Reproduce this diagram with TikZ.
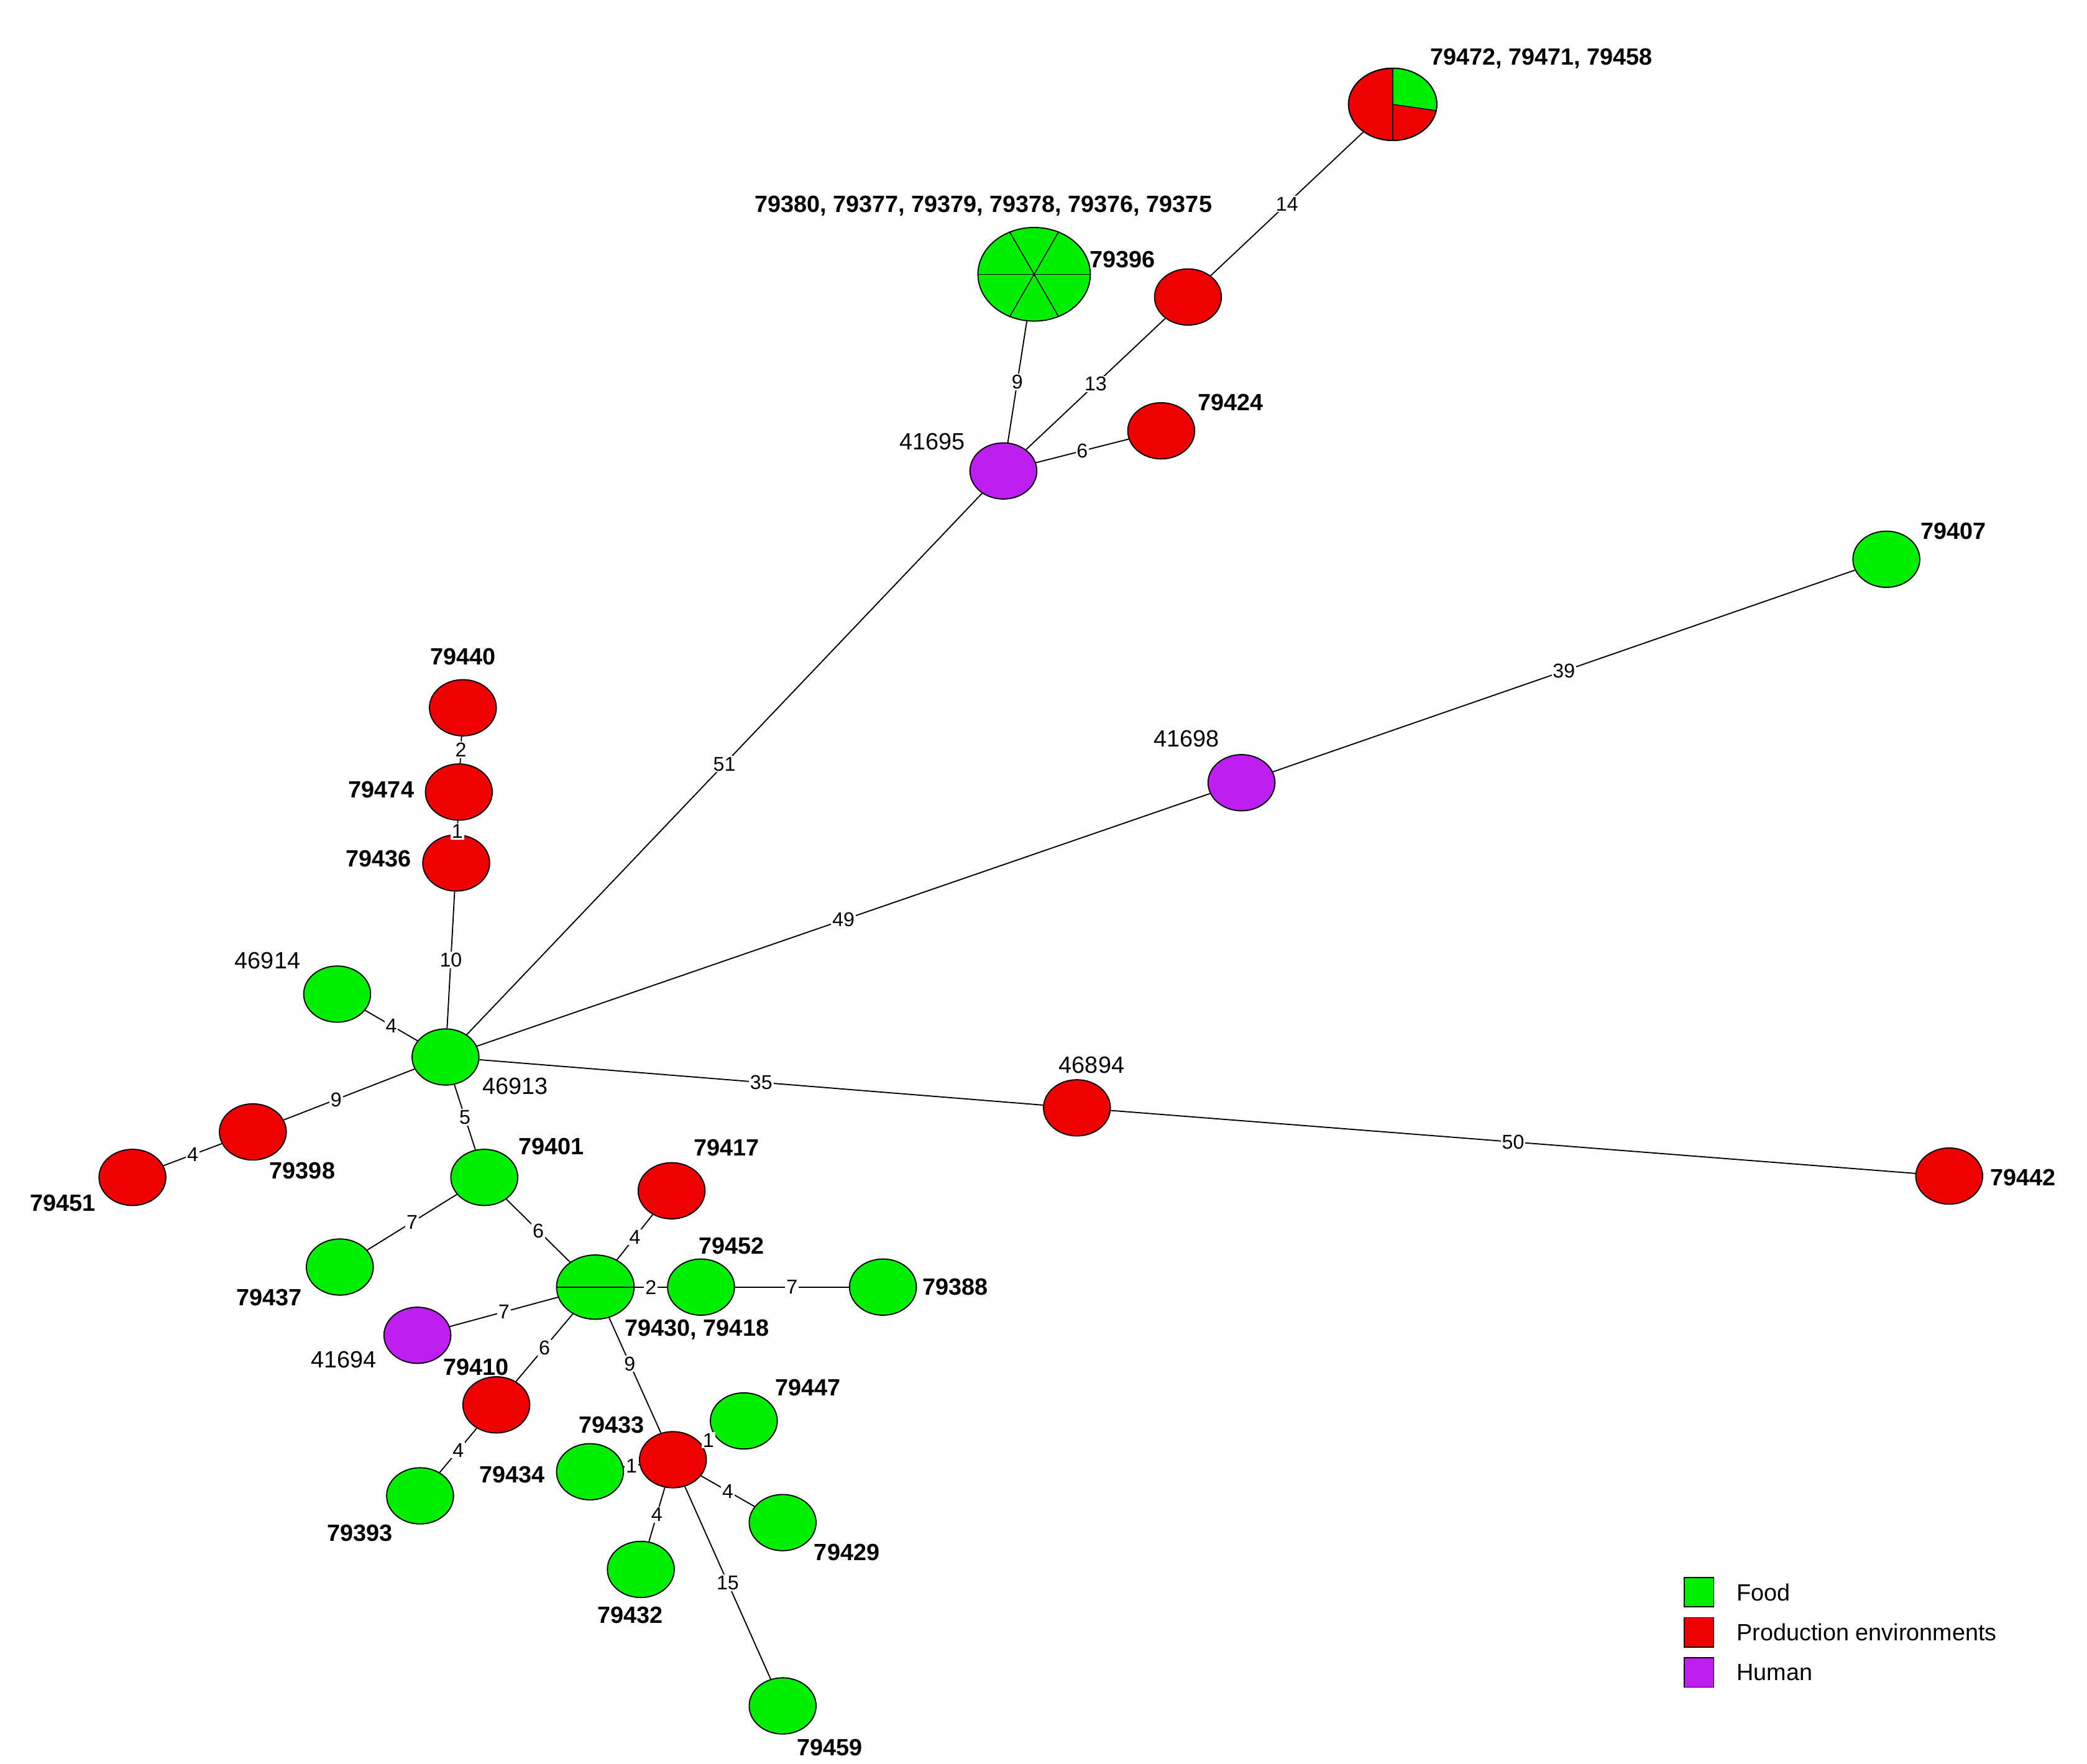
\documentclass[tikz,border=0pt]{standalone}
\usepackage{fontspec}
\setmainfont{Liberation Sans}
\usetikzlibrary{shapes.geometric}
\definecolor{fg}{RGB}{0,238,0}
\definecolor{pr}{RGB}{238,0,0}
\definecolor{hu}{RGB}{190,30,240}
\begin{document}
\begin{tikzpicture}[x=0.02cm,y=-0.02cm,
 nd/.style={ellipse,draw=black,line width=0.5pt,minimum width=1cm,minimum height=0.84cm,inner sep=0pt},
 g/.style={nd,fill=fg}, r/.style={nd,fill=pr}, h/.style={nd,fill=hu},
 bl/.style={font=\bfseries\fontsize{10}{12}\selectfont},
 nl/.style={font=\fontsize{10}{12}\selectfont},
 el/.style={font=\fontsize{8.5}{10}\selectfont,fill=white,inner sep=0.5pt},
 ed/.style={draw=black,line width=0.5pt}]
\useasboundingbox (0,0) rectangle (1560,1318);
% nodes
\node[g] (A) at (333,790) {};
\node[r] (n79440) at (346,529) {};
\node[r] (n79474) at (343,592) {};
\node[r] (n79436) at (341,645) {};
\node[g] (n46914) at (252,743) {};
\node[r] (n79398) at (189,846) {};
\node[r] (n79451) at (99,880) {};
\node[g] (n79401) at (362,880) {};
\node[g] (n79437) at (254,947) {};
\node[g,minimum width=1.16cm,minimum height=0.96cm] (B) at (445,962) {};
\node[g] (n79452) at (524,962) {};
\node[g] (n79388) at (660,962) {};
\node[r] (n79417) at (502,890) {};
\node[h] (n41694) at (312,998) {};
\node[r] (n79410) at (371,1050) {};
\node[g] (n79393) at (314,1118) {};
\node[r] (C) at (503,1091) {};
\node[g] (n79447) at (556,1062) {};
\node[g] (n79434) at (441,1100) {};
\node[g] (n79429) at (585,1138) {};
\node[g] (n79432) at (479,1173) {};
\node[g] (n79459) at (585,1275) {};
\node[h] (n41695) at (750,352) {};
\node[g,minimum width=1.68cm,minimum height=1.4cm] (P6) at (773,205) {};
\node[r] (n79396) at (888,222) {};
\node[r] (n79424) at (868,322) {};
\node[r,minimum width=1.32cm,minimum height=1.08cm] (P3) at (1041,78) {};
\node[h] (n41698) at (928,585) {};
\node[g] (n79407) at (1410,418) {};
\node[r] (n46894) at (805,828) {};
\node[r] (n79442) at (1457,879) {};
% inner lines
\draw (B.west) -- (B.east);
\draw (P6.west) -- (P6.east);
\draw (P6.60) -- (P6.240);
\draw (P6.120) -- (P6.300);
\fill[fg] (1041,78) -- (1041,51) arc[start angle=-90,end angle=10,x radius=33,y radius=27] -- cycle;
\draw (P3.90) -- (P3.270);
\draw (1041,78) -- (1073.5,82.7);
\draw[line width=0.5pt] (1041,78) ellipse[x radius=33,y radius=27];
% edges
\begin{scope}[every path/.style={ed}]
\path (A) -- node[el]{10} (n79436);
\path (n79436) -- node[el,pos=0.2]{1} (n79474);
\path (n79474) -- node[el]{2} (n79440);
\path (A) -- node[el]{4} (n46914);
\path (A) -- node[el,pos=0.6]{9} (n79398);
\path (n79398) -- node[el]{4} (n79451);
\path (A) -- node[el]{5} (n79401);
\path (n79401) -- node[el]{7} (n79437);
\path (n79401) -- node[el]{6} (B);
\path (B) -- node[el]{2} (n79452);
\path (n79452) -- node[el]{7} (n79388);
\path (B) -- node[el]{4} (n79417);
\path (B) -- node[el]{7} (n41694);
\path (B) -- node[el]{6} (n79410);
\path (n79410) -- node[el]{4} (n79393);
\path (B) -- node[el,pos=0.4]{9} (C);
\path (C) -- node[el]{1} (n79447);
\path (C) -- node[el]{1} (n79434);
\path (C) -- node[el]{4} (n79429);
\path (C) -- node[el]{4} (n79432);
\path (C) -- node[el]{15} (n79459);
\path (A) -- node[el]{51} (n41695);
\path (n41695) -- node[el]{9} (P6);
\path (n41695) -- node[el]{13} (n79396);
\path (n79396) -- node[el]{14} (P3);
\path (n41695) -- node[el]{6} (n79424);
\path (A) -- node[el]{49} (n41698);
\path (n41698) -- node[el]{39} (n79407);
\path (A) -- node[el]{35} (n46894);
\path (n46894) -- node[el]{50} (n79442);
\end{scope}
% labels
\node[bl] (t1) at (346,491) {79440};
\node[bl] (t2) at (285,590) {79474};
\node[bl] (t3) at (283,642) {79436};
\node[nl] (t4) at (200,718) {46914};
\node[nl] (t5) at (385,812) {46913};
\node[bl] (t6) at (226,875) {79398};
\node[bl] (t7) at (47,899) {79451};
\node[bl] (t8) at (412,857) {79401};
\node[bl] (t9) at (201,970) {79437};
\node[bl] (t10) at (543,858) {79417};
\node[bl] (t11) at (547,931) {79452};
\node[bl] (t12) at (714,962) {79388};
\node[bl] (t13) at (521,994) {79430, 79418};
\node[nl] (t14) at (257,1016) {41694};
\node[bl] (t15) at (356,1022) {79410};
\node[bl] (t16) at (269,1146) {79393};
\node[bl] (t17) at (457,1065) {79433};
\node[bl] (t18) at (604,1037) {79447};
\node[bl] (t19) at (383,1102) {79434};
\node[bl] (t20) at (633,1160) {79429};
\node[bl] (t21) at (471,1207) {79432};
\node[bl] (t22) at (620,1306) {79459};
\node[nl] (t23) at (697,330) {41695};
\node[bl] (t24) at (735,154) {79380, 79377, 79379, 79378, 79376, 79375};
\node[bl] (t25) at (839,194) {79396};
\node[bl] (t26) at (920,301) {79424};
\node[bl] (t27) at (1152,44) {79472, 79471, 79458};
\node[nl] (t28) at (887,552) {41698};
\node[bl] (t29) at (1460,397) {79407};
\node[nl] (t30) at (816,796) {46894};
\node[bl] (t31) at (1512,880) {79442};
% legend
\node[draw,fill=fg,minimum size=0.44cm,inner sep=0pt] (L1) at (1270,1190) {};
\node[draw,fill=pr,minimum size=0.44cm,inner sep=0pt] (L2) at (1270,1220) {};
\node[draw,fill=hu,minimum size=0.44cm,inner sep=0pt] (L3) at (1270,1250) {};
\node[nl,anchor=west] at (1292,1190) {Food};
\node[nl,anchor=west] at (1292,1220) {Production environments};
\node[nl,anchor=west] at (1292,1250) {Human};
\end{tikzpicture}
\end{document}
